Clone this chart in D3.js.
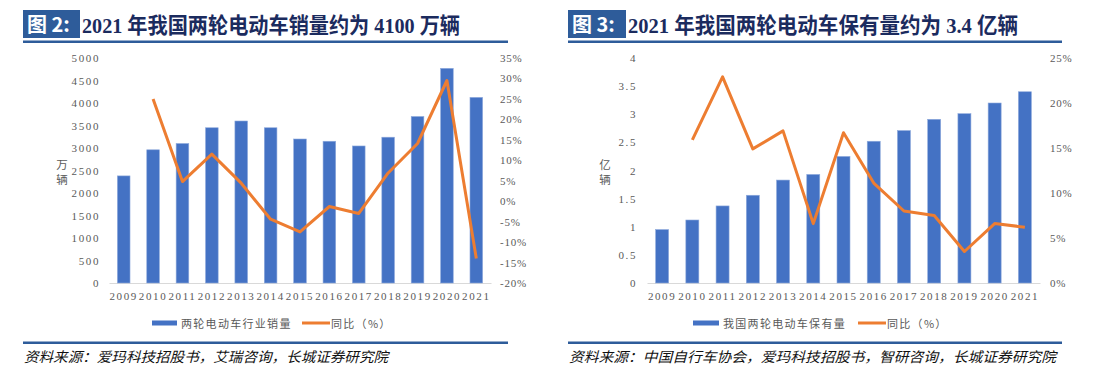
<!DOCTYPE html>
<html><head><meta charset="utf-8">
<script src="https://cdn.jsdelivr.net/npm/d3@7"></script>
<style>
html,body{margin:0;padding:0;background:#fff;}
svg{display:block;}
</style></head>
<body>
<svg id="c" width="1111" height="387"></svg>
<script>
const years = ["2009","2010","2011","2012","2013","2014","2015","2016","2017","2018","2019","2020","2021"];
const salesValues = [2380,2960,3100,3450,3600,3450,3200,3150,3045,3240,3700,4770,4125];
const salesYoY = [null,25,4.8,11.5,4.4,-4.4,-7.5,-1.3,-3,6.9,14.1,29.5,-14];
const stockValues = [0.95,1.12,1.37,1.56,1.83,1.93,2.25,2.52,2.71,2.91,3.01,3.2,3.4];
const stockYoY = [null,15.9,22.9,14.9,16.9,6.6,16.7,11.1,8.0,7.5,3.5,6.6,6.2];
const leftTicksSales = [0,500,1000,1500,2000,2500,3000,3500,4000,4500,5000];
const rightTicksSales = [-20,-15,-10,-5,0,5,10,15,20,25,30,35];
const leftTicksStock = [0,0.5,1,1.5,2,2.5,3,3.5,4];
const rightTicksStock = [0,5,10,15,20,25];

const svg = d3.select("#c");
const BLUE = "#4472C4", ORANGE = "#ED7D31", NAVY = "#2E5C9A", GRAY = "#595959";

function panel(o){
  const g = svg.append("g");
  // title
  g.append("rect").attr("x",o.x0).attr("y",10).attr("width",o.boxW).attr("height",28).attr("fill",NAVY);
  g.append("text").attr("x",o.x0+4).attr("y",32).attr("fill","#fff")
    .attr("font-family","'Noto Sans CJK SC'").attr("font-weight","bold").attr("font-size",20)
    .text(o.tag);
  g.append("text").attr("x",o.x0+o.boxW+2).attr("y",33).attr("fill","#1B2B5E")
    .attr("font-family","'Liberation Serif','Noto Sans CJK SC'").attr("font-weight","bold").attr("font-size",22)
    .attr("textLength",o.titleW).attr("lengthAdjust","spacingAndGlyphs")
    .text(o.title);
  g.append("rect").attr("x",o.x0).attr("y",40.5).attr("width",o.x1-o.x0).attr("height",2.5).attr("fill",NAVY);

  const x = d3.scaleBand().domain(years).range([o.px0,o.px1]).paddingInner(0.57).paddingOuter(0.285);
  const yL = d3.scaleLinear().domain(o.yLdom).range([283,58]);
  const yR = d3.scaleLinear().domain(o.yRdom).range([283,58]);

  // baseline axis
  const ax = d3.axisBottom(x).tickSize(0).tickPadding(9);
  const axg = g.append("g").attr("transform","translate(0,283)").call(ax);
  axg.select(".domain").attr("stroke","#D9D9D9").attr("stroke-width",1.2);
  axg.selectAll("text").attr("font-family","'Liberation Serif'").attr("font-size",11).attr("fill",GRAY).attr("letter-spacing","1.6px");

  const axL = d3.axisLeft(yL).tickValues(o.lt).tickSize(0).tickPadding(0).tickFormat(o.lfmt);
  const gl = g.append("g").attr("transform",`translate(${o.lx},0)`).call(axL);
  gl.select(".domain").remove();
  gl.selectAll("text").attr("font-family","'Liberation Serif'").attr("font-size",11).attr("fill",GRAY).attr("letter-spacing","1.6px");

  const axR = d3.axisRight(yR).tickValues(o.rt).tickSize(0).tickPadding(0).tickFormat(d=>d+"%");
  const gr = g.append("g").attr("transform",`translate(${o.rx},0)`).call(axR);
  gr.select(".domain").remove();
  gr.selectAll("text").attr("font-family","'Liberation Serif'").attr("font-size",11).attr("fill",GRAY).attr("letter-spacing","0.8px");

  // y title
  o.ytitle.split("").forEach((c,i)=>{
    g.append("text").attr("x",o.ytx).attr("y",169+i*15).attr("text-anchor","middle")
      .attr("font-family","'Noto Sans CJK SC'").attr("font-size",11.5).attr("fill",GRAY).text(c);
  });

  // bars
  g.selectAll("rect.bar").data(o.bars).enter().append("rect").attr("class","bar")
    .attr("x",(d,i)=>x(years[i])).attr("width",x.bandwidth())
    .attr("y",d=>yL(d)).attr("height",d=>283-yL(d)).attr("fill",BLUE)
    .attr("stroke","#8FAADC").attr("stroke-width",0.6);

  // line
  const line = d3.line().defined(d=>d[1]!=null).x(d=>x(d[0])+x.bandwidth()/2).y(d=>yR(d[1]));
  g.append("path").datum(years.map((y,i)=>[y,o.yoy[i]])).attr("d",line)
    .attr("fill","none").attr("stroke",ORANGE).attr("stroke-width",3).attr("stroke-linejoin","round");

  // legend
  g.append("rect").attr("x",o.lg[0]).attr("y",320.5).attr("width",o.lg[1]-o.lg[0]).attr("height",5).attr("fill",BLUE);
  g.append("text").attr("x",o.lg[1]+4).attr("y",327.5).attr("font-family","'Noto Sans CJK SC'").attr("font-size",11)
    .attr("fill",GRAY).attr("letter-spacing","1.3px").text(o.legend);
  g.append("line").attr("x1",o.lg[2]).attr("x2",o.lg[3]).attr("y1",323).attr("y2",323).attr("stroke",ORANGE).attr("stroke-width",3);
  g.append("text").attr("x",o.lg[3]+1).attr("y",327.5).attr("font-family","'Noto Sans CJK SC'").attr("font-size",11)
    .attr("fill",GRAY).attr("letter-spacing","1.3px").text("同比（%）");

  // divider + source
  g.append("rect").attr("x",o.x0).attr("y",341.5).attr("width",o.x1-o.x0).attr("height",2.5).attr("fill",NAVY);
  g.append("text").attr("x",o.x0+1).attr("y",362).attr("font-family","'Noto Sans CJK SC'").attr("font-size",14)
    .attr("font-style","italic").attr("fill","#111")
    .attr("textLength",o.srcW).attr("lengthAdjust","spacingAndGlyphs").text(o.source);
}

panel({x0:23,x1:508,boxW:57,tag:"图 2:",title:"2021 年我国两轮电动车销量约为 4100 万辆",titleW:378,
  px0:109,px1:491,yLdom:[0,5000],yRdom:[-20,35],lt:leftTicksSales,rt:rightTicksSales,lfmt:d=>String(d),
  lx:100,rx:500,ytitle:"万辆",ytx:62,bars:salesValues,yoy:salesYoY,
  lg:[152,177,302,330],legend:"两轮电动车行业销量",
  source:"资料来源：爱玛科技招股书，艾瑞咨询，长城证券研究院",srcW:364});

panel({x0:568,x1:1062,boxW:58,tag:"图 3:",title:"2021 年我国两轮电动车保有量约为 3.4 亿辆",titleW:390,
  px0:647,px1:1040,yLdom:[0,4],yRdom:[0,25],lt:leftTicksStock,rt:rightTicksStock,lfmt:d=>String(d),
  lx:637,rx:1050,ytitle:"亿辆",ytx:605,bars:stockValues,yoy:stockYoY,
  lg:[693,719,858,886],legend:"我国两轮电动车保有量",
  source:"资料来源：中国自行车协会，爱玛科技招股书，智研咨询，长城证券研究院",srcW:487});
</script>
</body></html>
